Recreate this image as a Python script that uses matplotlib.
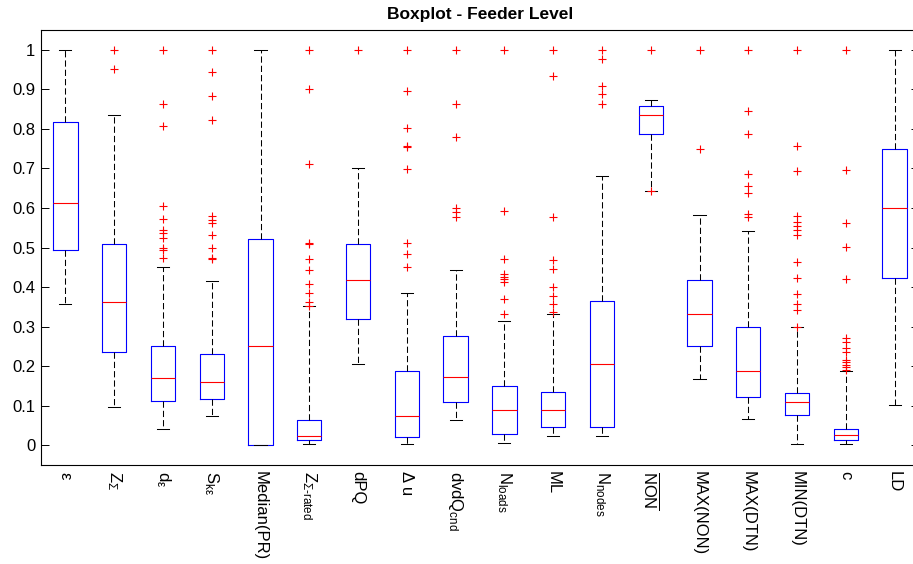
import matplotlib
matplotlib.use('Agg')
import matplotlib.pyplot as plt

plt.rcParams['font.family'] = ['Liberation Sans', 'DejaVu Sans']
plt.rcParams['mathtext.fontset'] = 'custom'
plt.rcParams['mathtext.rm'] = 'Liberation Sans'
plt.rcParams['mathtext.it'] = 'Liberation Sans'
plt.rcParams['mathtext.bf'] = 'Liberation Sans:bold'
plt.rcParams['lines.scale_dashes'] = False

# --- indicator names (feeder level) ---
labels = [r'$\varepsilon$', r'$\mathrm{Z}_{\Sigma}$', r'$\mathrm{d}_{\varepsilon}$',
          r'$\mathrm{S}_{\mathrm{k}\varepsilon}$', 'Median(PR)',
          r'$\mathrm{Z}_{\Sigma\mathrm{‐rated}}$', 'dPQ', 'Δ u',
          r'$\mathrm{dvdQ}_{\mathrm{cnd}}$', r'$\mathrm{N}_{\mathrm{loads}}$', 'ML',
          r'$\mathrm{N}_{\mathrm{nodes}}$', r'$\overline{\mathrm{NON}}$',
          'MAX(NON)', 'MAX(DTN)', 'MIN(DTN)', 'c', 'LD']

# --- box statistics (normalised values) ---
q1 = [0.494, 0.237, 0.112, 0.118, 0.000, 0.013, 0.319, 0.021, 0.109,
      0.029, 0.046, 0.046, 0.786, 0.252, 0.121, 0.077, 0.014, 0.424]
med = [0.612, 0.363, 0.170, 0.160, 0.252, 0.023, 0.417, 0.075, 0.172,
       0.090, 0.090, 0.205, 0.834, 0.333, 0.188, 0.109, 0.025, 0.599]
q3 = [0.818, 0.509, 0.250, 0.231, 0.521, 0.065, 0.509, 0.188, 0.277,
      0.151, 0.135, 0.364, 0.858, 0.417, 0.300, 0.133, 0.041, 0.750]
whis_lo = [0.357, 0.097, 0.040, 0.075, 0.000, 0.004, 0.205, 0.004, 0.063,
           0.006, 0.023, 0.023, 0.643, 0.168, 0.067, 0.002, 0.004, 0.101]
whis_hi = [1.000, 0.834, 0.451, 0.415, 1.000, 0.351, 0.702, 0.385, 0.442,
           0.315, 0.333, 0.681, 0.874, 0.583, 0.542, 0.300, 0.188, 1.000]

# outliers per indicator
outliers = [
    [],
    [1.0, 0.951],
    [1.0, 0.864, 0.807, 0.604, 0.571, 0.544, 0.537, 0.523, 0.500, 0.494, 0.474],
    [1.0, 0.945, 0.882, 0.823, 0.579, 0.569, 0.561, 0.531, 0.498, 0.474, 0.470],
    [],
    [1.0, 0.902, 0.711, 0.511, 0.509, 0.472, 0.443, 0.407, 0.386, 0.363, 0.352],
    [1.0],
    [1.0, 0.895, 0.801, 0.756, 0.753, 0.698, 0.511, 0.484, 0.450],
    [1.0, 0.864, 0.780, 0.600, 0.589, 0.576],
    [1.0, 0.593, 0.472, 0.432, 0.426, 0.421, 0.414, 0.369, 0.333],
    [1.0, 0.933, 0.578, 0.468, 0.445, 0.401, 0.378, 0.357, 0.336],
    [1.0, 0.976, 0.908, 0.887, 0.864],
    [1.0, 0.643],
    [1.0, 0.750],
    [1.0, 0.845, 0.786, 0.687, 0.656, 0.639, 0.584, 0.578],
    [1.0, 0.757, 0.694, 0.579, 0.565, 0.555, 0.544, 0.532, 0.463, 0.422,
     0.382, 0.357, 0.342, 0.300],
    [1.0, 0.696, 0.561, 0.502, 0.420, 0.272, 0.260, 0.247, 0.236, 0.216,
     0.210, 0.204, 0.197, 0.191],
    [],
]

stats = []
for i in range(len(labels)):
    stats.append(dict(q1=q1[i], med=med[i], q3=q3[i], whislo=whis_lo[i],
                      whishi=whis_hi[i], fliers=outliers[i]))

positions = list(range(1, len(labels) + 1))

fig = plt.figure(figsize=(9.13, 5.64), dpi=100)
ax = fig.add_axes([41 / 913, 99 / 564, 878 / 913, 435 / 564])

ax.bxp(stats, positions=positions, widths=0.5, capwidths=0.25,
       boxprops=dict(color='blue', linewidth=0.8),
       medianprops=dict(color='red', linewidth=0.8),
       whiskerprops=dict(color='black', linewidth=0.75, linestyle=(0, (4.5, 2.2))),
       capprops=dict(color='black', linewidth=0.75),
       flierprops=dict(marker='+', markeredgecolor='red', markersize=6,
                       markeredgewidth=0.8, linestyle='none'))

ax.set_xlim(0.5, len(labels) + 0.5)
ax.set_ylim(-0.05, 1.05)
ax.set_yticks([0, 0.1, 0.2, 0.3, 0.4, 0.5, 0.6, 0.7, 0.8, 0.9, 1])
ax.set_yticklabels(['0', '0.1', '0.2', '0.3', '0.4', '0.5', '0.6', '0.7', '0.8', '0.9', '1'])
ax.tick_params(axis='y', direction='in', length=6, width=0.7, left=True, right=True,
               labelsize=12, pad=4)
ax.set_xticks(positions)
ax.set_xticklabels(labels, rotation=270, ha='center', va='top', fontsize=12)
ax.tick_params(axis='x', length=0, pad=4)

for sp in ax.spines.values():
    sp.set_linewidth(0.8)

ax.set_title('Boxplot - Feeder Level', fontsize=12.5, fontweight='bold', pad=8)

fig.savefig('out.png', dpi=100)
